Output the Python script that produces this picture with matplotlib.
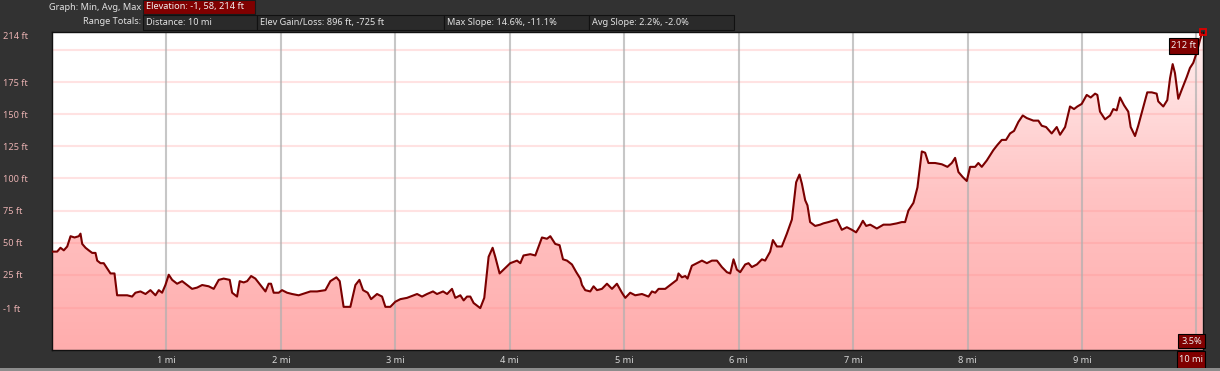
import numpy as np
import matplotlib.pyplot as plt
from matplotlib.colors import LinearSegmentedColormap
from matplotlib.patches import Rectangle

# elevation profile (miles, feet)
dist_mi = [
    0.00, 0.045, 0.074, 0.103, 0.133, 0.162, 0.197, 0.234, 0.249, 0.264,
    0.293, 0.321, 0.351, 0.380, 0.395, 0.424, 0.452, 0.482, 0.511, 0.546,
    0.569, 0.613, 0.657, 0.700, 0.729, 0.773, 0.817, 0.860, 0.904, 0.933,
    0.962, 0.991, 1.020, 1.050, 1.093, 1.137, 1.181, 1.224, 1.268, 1.312,
    1.369, 1.413, 1.457, 1.500, 1.553, 1.574, 1.617, 1.640, 1.675, 1.705,
    1.740, 1.777, 1.821, 1.865, 1.893, 1.914, 1.937, 1.981, 2.010, 2.054,
    2.098, 2.155, 2.258, 2.316, 2.389, 2.432, 2.485, 2.514, 2.548, 2.607,
    2.651, 2.686, 2.718, 2.758, 2.788, 2.840, 2.884, 2.913, 2.956, 3.000,
    3.044, 3.102, 3.190, 3.233, 3.277, 3.329, 3.364, 3.417, 3.452, 3.495,
    3.524, 3.568, 3.597, 3.626, 3.655, 3.684, 3.742, 3.777, 3.815, 3.850,
    3.873, 3.911, 3.946, 4.004, 4.063, 4.092, 4.120, 4.179, 4.223, 4.281,
    4.325, 4.354, 4.397, 4.435, 4.465, 4.500, 4.543, 4.581, 4.616, 4.631,
    4.659, 4.703, 4.732, 4.762, 4.805, 4.849, 4.893, 4.936, 4.980, 5.009,
    5.052, 5.096, 5.155, 5.212, 5.242, 5.271, 5.300, 5.358, 5.417, 5.460,
    5.474, 5.504, 5.533, 5.553, 5.591, 5.635, 5.679, 5.722, 5.766, 5.810,
    5.853, 5.897, 5.926, 5.955, 5.984, 6.013, 6.057, 6.086, 6.115, 6.159,
    6.203, 6.231, 6.275, 6.299, 6.334, 6.377, 6.421, 6.465, 6.502, 6.531,
    6.552, 6.581, 6.601, 6.624, 6.668, 6.712, 6.740, 6.784, 6.858, 6.901,
    6.945, 6.989, 7.026, 7.061, 7.085, 7.114, 7.149, 7.207, 7.265, 7.323,
    7.382, 7.425, 7.454, 7.483, 7.527, 7.562, 7.600, 7.629, 7.658, 7.716,
    7.775, 7.824, 7.862, 7.891, 7.920, 7.958, 7.993, 8.022, 8.066, 8.094,
    8.124, 8.168, 8.225, 8.260, 8.299, 8.336, 8.371, 8.406, 8.444, 8.482,
    8.517, 8.575, 8.618, 8.648, 8.686, 8.735, 8.779, 8.808, 8.852, 8.895,
    8.930, 8.959, 8.997, 9.041, 9.076, 9.114, 9.134, 9.157, 9.201, 9.245,
    9.273, 9.303, 9.332, 9.367, 9.404, 9.425, 9.463, 9.491, 9.530, 9.570,
    9.609, 9.652, 9.666, 9.710, 9.745, 9.769, 9.792, 9.812, 9.841, 9.871,
    9.915, 9.943, 9.972, 10.002, 10.031, 10.045, 10.055,
]
elev_ft = [
    43, 43, 46, 44, 47, 55, 54, 55, 57, 49,
    46, 44, 42, 42, 36, 34, 34, 30, 26, 26,
    9, 9, 9, 8, 11, 12, 10, 13, 9, 13,
    11, 17, 25, 21, 18, 20, 17, 14, 15, 17,
    16, 14, 21, 22, 21, 11, 8, 20, 19, 20,
    24, 22, 17, 12, 18, 18, 11, 11, 13, 11,
    10, 9, 12, 12, 13, 20, 23, 20, 0, 0,
    17, 21, 13, 11, 6, 10, 8, 0, 0, 4,
    6, 7, 10, 8, 10, 12, 10, 12, 10, 14,
    7, 9, 5, 8, 8, 3, -1, 7, 39, 46,
    39, 26, 29, 34, 36, 34, 40, 41, 40, 54,
    53, 55, 49, 48, 37, 36, 33, 27, 22, 17,
    13, 12, 16, 13, 14, 18, 14, 18, 11, 7,
    11, 9, 10, 8, 12, 11, 14, 14, 18, 21,
    26, 23, 24, 22, 32, 34, 36, 34, 36, 36,
    31, 27, 26, 37, 29, 27, 33, 34, 31, 33,
    37, 36, 43, 52, 47, 47, 57, 68, 97, 103,
    96, 83, 79, 66, 63, 64, 65, 66, 68, 60,
    62, 60, 58, 63, 67, 63, 64, 61, 64, 64,
    65, 66, 66, 75, 81, 93, 121, 120, 112, 112,
    111, 109, 112, 116, 105, 101, 98, 109, 109, 112,
    109, 114, 122, 126, 130, 130, 135, 137, 144, 149,
    147, 145, 145, 141, 140, 135, 140, 134, 140, 156,
    154, 156, 158, 165, 163, 166, 165, 152, 146, 149,
    154, 153, 163, 157, 152, 140, 133, 141, 154, 167,
    167, 166, 160, 156, 161, 178, 189, 182, 162, 169,
    179, 186, 190, 198, 208, 212, 214,
]

grid_ft = [-1, 25, 50, 75, 100, 125, 150, 175, 200]
ytick_ft = [-1, 25, 50, 75, 100, 125, 150, 175, 214]
ytick_labels = [f"{v} ft" for v in ytick_ft]
mile_marks = [1, 2, 3, 4, 5, 6, 7, 8, 9, 10]
xtick_mi = [1, 2, 3, 4, 5, 6, 7, 8, 9]
xtick_labels = [f"{v} mi" for v in xtick_mi]

graph_label = "Graph: Min, Avg, Max"
elev_stats = "Elevation: -1, 58, 214 ft"
totals_label = "Range Totals:"
totals = [
    "Distance: 10 mi",
    "Elev Gain/Loss: 896 ft, -725 ft",
    "Max Slope: 14.6%, -11.1%",
    "Avg Slope: 2.2%, -2.0%",
]
cursor_elev = "212 ft"
cursor_slope = "3.5%"
cursor_dist = "10 mi"

W, H = 1220, 371
BG = "#323232"
BOX = "#2a2a2a"
RED_BOX = "#800000"
FONT = "Noto Sans"

plt.rcParams["font.family"] = [FONT, "DejaVu Sans"]

fig = plt.figure(figsize=(W / 100, H / 100), dpi=100, facecolor=BG)


def px_box(x0, y0, x1, y1, face, edge="#111111"):
    fig.add_artist(Rectangle((x0 / W, 1 - y1 / H), (x1 - x0) / W, (y1 - y0) / H,
                             transform=fig.transFigure, facecolor=face,
                             edgecolor=edge, linewidth=0.8))


def px_text(x, y, s, ha="left", color="#e2e2e2", size=6.6):
    fig.text(x / W, 1 - y / H, s, ha=ha, va="center", color=color, fontsize=size)


# header rows
px_text(141, 7, graph_label, ha="right")
px_box(143, 0, 255, 14, RED_BOX, edge="#1a1a1a")
px_text(146, 7, elev_stats, color="#f2f2f2")

px_text(141, 22, totals_label, ha="right")
edges = [143, 257, 444, 589, 734]
for i, s in enumerate(totals):
    px_box(edges[i], 15, edges[i + 1], 30, BOX)
    px_text(edges[i] + 3, 22.5, s)

# plot area
ax = fig.add_axes([52 / W, 1 - 350 / H, (1203 - 52) / W, (350 - 32) / H])
ax.set_facecolor("white")

x = np.array(dist_mi)
y = np.array(elev_ft)
ymin, ymax = -33.6, 214
xmin, xmax = 0.0, 10.057

fill = ax.fill_between(x, y, ymin, facecolor="none", edgecolor="none")
grad = np.linspace(0, 1, 256).reshape(-1, 1)
cmap = LinearSegmentedColormap.from_list("elev", ["#ffadad", "#ffc4c4", "#fff0f0"])
im = ax.imshow(grad, extent=[xmin, xmax, ymin, ymax], origin="lower",
               aspect="auto", cmap=cmap, zorder=1)
im.set_clip_path(fill.get_paths()[0], transform=ax.transData)

for g in grid_ft:
    ax.axhline(g, color="#ff8c8c", alpha=0.25, lw=1.5, zorder=2)
for m in mile_marks:
    ax.axvline(m, color="#b0b0b0", alpha=0.7, lw=1.5, zorder=2)

ax.plot(x, y, color="#7a0000", lw=1.5, zorder=3, solid_joinstyle="round")
ax.plot(x[-1], y[-1], marker="s", ms=4.5, mfc="none", mec="#e00000", mew=1.3,
        clip_on=False, zorder=5)

ax.set_xlim(xmin, xmax)
ax.set_ylim(ymin, ymax)

ax.set_yticks(ytick_ft, ytick_labels)
ax.set_xticks(xtick_mi, xtick_labels)
ax.tick_params(axis="y", length=0, pad=35.3, labelcolor="#eab2b2", labelsize=6.6)
ax.tick_params(axis="x", length=0, pad=4.2, labelcolor="#d8d8d8", labelsize=6.6)
for lab in ax.get_yticklabels():
    lab.set_horizontalalignment("left")
ax.get_yticklabels()[-1].set_verticalalignment("top")

for sp in ax.spines.values():
    sp.set_color("#111111")
    sp.set_linewidth(1.0)

# cursor read-outs
px_box(1169, 38, 1198, 54, RED_BOX, edge="#000000")
px_text(1183.5, 46, cursor_elev, ha="center", color="#f0f0f0")
px_box(1178, 334, 1205, 348, RED_BOX, edge="#000000")
px_text(1191.5, 341, cursor_slope, ha="center", color="#f0f0f0")
px_box(1177, 351, 1205, 368, RED_BOX, edge="#000000")
px_text(1191, 359.5, cursor_dist, ha="center", color="#f0f0f0")

# bottom separator strip
px_box(0, 368, W, H + 1, "#8c8c8c", edge="none")

fig.savefig("out.png", dpi=100, facecolor=BG)
